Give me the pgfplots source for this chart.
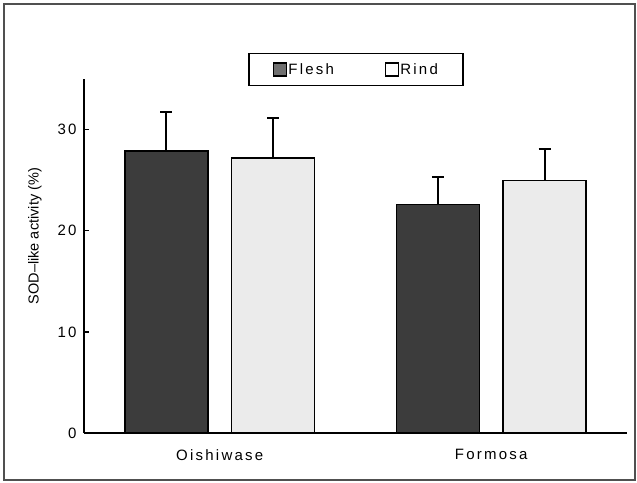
\documentclass[border=0pt]{standalone}
\usepackage{pgfplots}
\pgfplotsset{compat=1.18}
\usepackage{fontspec}
\setmainfont{Liberation Sans}
\newfontfamily\spaced[LetterSpace=15]{Liberation Sans}
\definecolor{fleshc}{HTML}{3C3C3C}
\definecolor{rindc}{HTML}{EBEBEB}
\definecolor{fleshleg}{HTML}{707070}
\definecolor{framec}{HTML}{505050}
\begin{document}
\begin{tikzpicture}[x=1pt,y=1pt]
\path[use as bounding box] (0,0) rectangle (637,482);
\draw[framec, line width=2pt] (4,2) rectangle (635,478);
\begin{axis}[
  at={(84pt,49pt)}, anchor=south west,
  scale only axis, width=543pt, height=354pt,
  xmin=-0.5, xmax=1.5, ymin=0, ymax=35,
  axis x line*=bottom, axis y line*=left,
  axis line style={line width=1.5pt, black},
  xtick={0,1}, xticklabels={Oishiwase, Formosa},
  xtick style={draw=none},
  ytick={0,10,20,30},
  tick align=inside,
  ytick style={line width=1.5pt, black},
  major tick length=5pt,
  /pgf/number format/assume math mode=true,
  yticklabel style={font=\spaced\fontsize{15}{18}\selectfont, xshift=-4pt},
  xticklabel style={font=\spaced\fontsize{15}{18}\selectfont, yshift=-13pt},
  ylabel={SOD–like activity (\%)},
  ylabel style={at={([xshift=-49pt]rel axis cs:0,0.556)}, anchor=center, font=\fontsize{14.5}{17}\selectfont},
  legend columns=2,
  legend style={at={(rel axis cs:0.501,1.027)}, anchor=center, draw=black, line width=1.5pt,
    font=\spaced\fontsize{15}{18}\selectfont, inner xsep=24pt, inner ysep=9pt,
    nodes={inner sep=1pt},
    /tikz/every even column/.append style={column sep=50pt}},
  error bars/y dir=plus, error bars/y explicit,
  error bars/error mark=|,
  error bars/error bar style={line width=2pt, black},
  error bars/error mark options={line width=2pt, mark size=6pt, black},
]
\addplot[ybar, bar width=0.3057, bar shift=0, fill=fleshc, draw=black, line width=1.5pt,
  legend image code/.code={\draw[fill=fleshleg, draw=black, line width=1.2pt] (0pt,-6.5pt) rectangle (13pt,6.5pt);}]
  coordinates {(-0.197,27.9) +- (0,3.8) (0.803,22.6) +- (0,2.7)};
\addlegendentry{Flesh}
\addplot[ybar, bar width=0.3057, bar shift=0, fill=rindc, draw=black, line width=1.5pt,
  legend image code/.code={\draw[fill=white, draw=black, line width=1.2pt] (0pt,-6.5pt) rectangle (13pt,6.5pt);}]
  coordinates {(0.197,27.2) +- (0,3.9) (1.197,24.95) +- (0,3.1)};
\addlegendentry{Rind}
\end{axis}
\end{tikzpicture}
\end{document}
